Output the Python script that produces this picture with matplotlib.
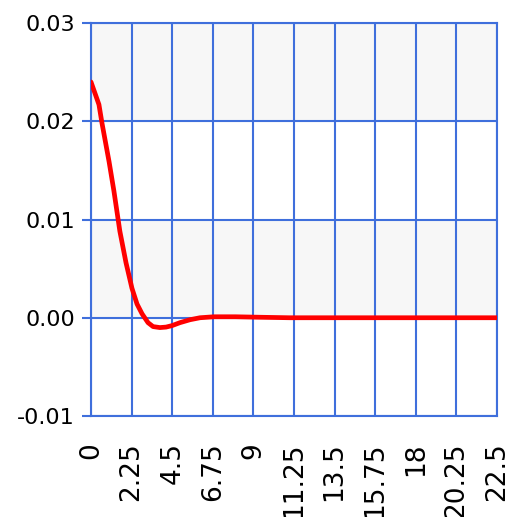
import matplotlib
matplotlib.use("Agg")
import matplotlib.pyplot as plt

# data
t_vals = [0.0, 0.44, 0.61, 1.0, 1.27, 1.6, 1.94, 2.27, 2.55, 2.83, 3.16, 3.44,
          3.82, 4.16, 4.49, 4.93, 5.49, 6.04, 6.82, 8.0, 9.4, 11.0, 13.5, 16.0,
          18.0, 20.25, 22.5]
v_vals = [0.0240, 0.0217, 0.0198, 0.0159, 0.0129, 0.0088, 0.0056, 0.0030,
          0.0014, 0.0004, -0.0005, -0.0009, -0.0010, -0.00095, -0.0008,
          -0.0005, -0.0002, 0.0, 0.0001, 0.0001, 0.00005, 0.0, 0.0, 0.0,
          0.0, 0.0, 0.0]
x_ticks = [0, 2.25, 4.5, 6.75, 9, 11.25, 13.5, 15.75, 18, 20.25, 22.5]
x_labels = ["0", "2.25", "4.5", "6.75", "9", "11.25", "13.5", "15.75", "18", "20.25", "22.5"]
y_ticks = [-0.01, 0.0, 0.01, 0.02, 0.03]
y_labels = ["-0.01", "0.00", "0.01", "0.02", "0.03"]
bands = [(0.02, 0.03), (0.0, 0.01)]

W, H = 509, 517
fig = plt.figure(figsize=(W / 100, H / 100), dpi=100)
ax = fig.add_axes([91 / W, (H - 416) / H, (497 - 91) / W, (416 - 23) / H])

blue = "#3f6fdc"
ax.set_facecolor("white")
for lo, hi in bands:
    ax.axhspan(lo, hi, color="#f7f7f7", zorder=0)

ax.plot(t_vals, v_vals, color="#ff0000", lw=3.4, solid_capstyle="round", zorder=3)

ax.set_xlim(0, 22.5)
ax.set_ylim(-0.01, 0.03)
ax.set_xticks(x_ticks)
ax.set_xticklabels(x_labels, rotation=90, va="top", ha="center",
                   family=["DejaVu Sans"], fontsize=19)
ax.set_yticks(y_ticks)
ax.set_yticklabels(y_labels, family=["DejaVu Sans"], fontsize=16)
ax.tick_params(axis="x", length=0, pad=19)
ax.tick_params(axis="y", length=6.5, width=1.5, color=blue, pad=5)
ax.grid(True, color=blue, lw=1.5, zorder=1)
ax.set_axisbelow(False)
for s in ax.spines.values():
    s.set_color(blue)
    s.set_linewidth(1.5)
    s.set_zorder(2)

fig.savefig("out.png", dpi=100)
